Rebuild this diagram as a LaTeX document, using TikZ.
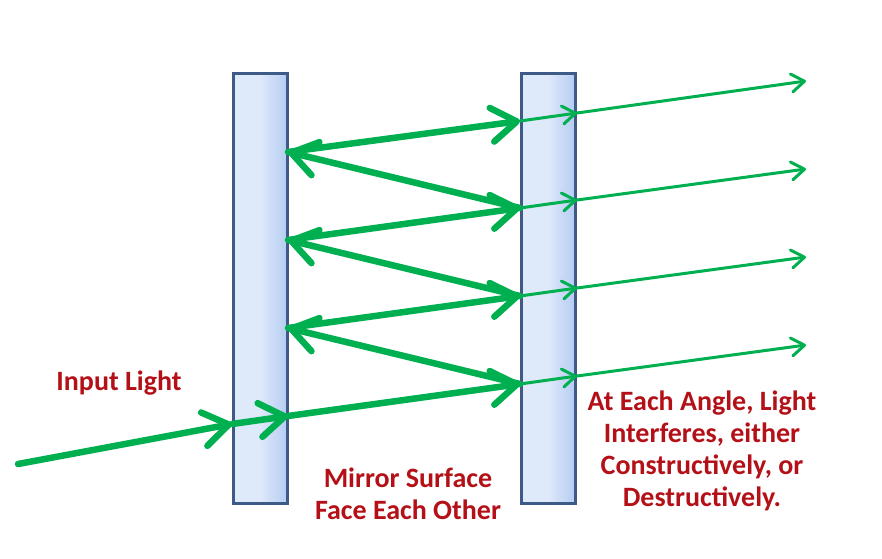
\documentclass[tikz,border=0pt]{standalone}
\usepackage{fontspec}
\setmainfont{Carlito}
\usepackage{tikz}
\usetikzlibrary{arrows.meta}
\definecolor{raygreen}{RGB}{0,176,80}
\definecolor{labelred}{RGB}{180,16,24}
\definecolor{plateedge}{RGB}{62,90,135}
\definecolor{platelight}{RGB}{222,233,250}
\definecolor{platedark}{RGB}{182,204,242}
\tikzstyle{mirror}=[draw=plateedge, line width=3pt, inner sep=0, minimum width=54pt, minimum height=430pt,
                    left color=platelight, right color=platedark, middle color=platelight]
\tikzstyle{beam}=[raygreen, line width=6.5pt, line cap=round,
                  -{Straight Barb[length=25pt, width=34pt, line width=6.5pt, round]}]
\tikzstyle{wbeam}=[raygreen, line width=3pt, line cap=round,
                   -{Straight Barb[length=13pt, width=18pt, line width=3pt, round]}]
\tikzstyle{note}=[labelred, font=\bfseries\fontsize{28}{32}\selectfont, align=center, inner sep=0]

\begin{document}
\begin{tikzpicture}[x=1pt, y=-1pt]
        \useasboundingbox (0,0) rectangle (882,558);
        % the two plates
        \node[mirror] (P1) at (260,288) {};
        \node[mirror] (P2) at (548,288) {};
        % points where the light meets the plates
        \coordinate (S)  at (18,464);
        \coordinate (A)  at (232,424);
        \coordinate (L0) at (288,416);
        \coordinate (L1) at (288,328);
        \coordinate (L2) at (288,240);
        \coordinate (L3) at (288,152);
        \coordinate (R1) at (520,384);
        \coordinate (R2) at (520,296);
        \coordinate (R3) at (520,208);
        \coordinate (R4) at (520,121);
        \coordinate (T1) at (577,376);
        \coordinate (T2) at (577,288);
        \coordinate (T3) at (577,200);
        \coordinate (T4) at (577,113);
        \coordinate (E1) at (806,345);
        \coordinate (E2) at (806,257);
        \coordinate (E3) at (806,169);
        \coordinate (E4) at (806,81);
        % bouncing light
        \draw[beam] (S) -- (A);
        \draw[beam] (A) -- (L0);
        \draw[beam] (L0) -- (R1);
        \draw[beam] (R1) -- (L1);
        \draw[beam] (L1) -- (R2);
        \draw[beam] (R2) -- (L2);
        \draw[beam] (L2) -- (R3);
        \draw[beam] (R3) -- (L3);
        \draw[beam] (L3) -- (R4);
        % light leaving the second plate
        \draw[wbeam] (R1) -- (T1);
        \draw[wbeam] (T1) -- (E1);
        \draw[wbeam] (R2) -- (T2);
        \draw[wbeam] (T2) -- (E2);
        \draw[wbeam] (R3) -- (T3);
        \draw[wbeam] (T3) -- (E3);
        \draw[wbeam] (R4) -- (T4);
        \draw[wbeam] (T4) -- (E4);
        % labels
        \node[note] (input)   at (119,383) {Input Light};
        \node[note] (mirrors) at (408,494) {Mirror Surface\\Face Each Other};
        \node[note] (angles)  at (702,451) {At Each Angle, Light\\Interferes, either\\Constructively, or\\Destructively.};
\end{tikzpicture}
\end{document}
